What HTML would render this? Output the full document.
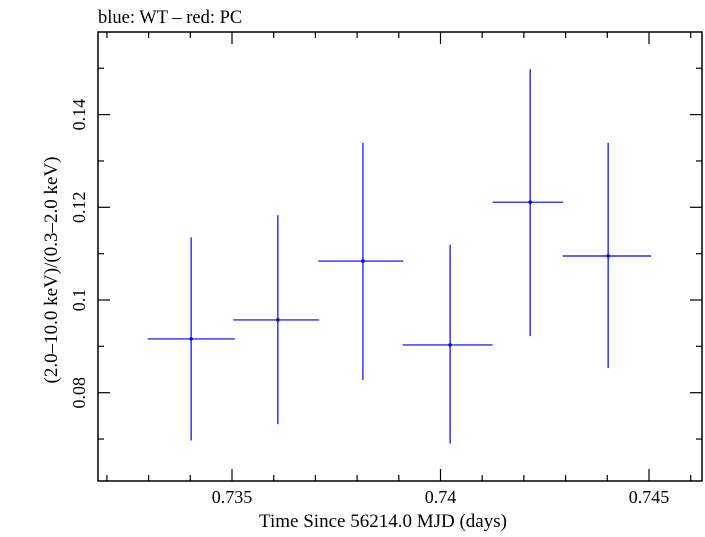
<!DOCTYPE html>
<html><head><meta charset="utf-8"><style>
body{margin:0;background:#fff;}
svg text{font-family:"Liberation Serif",serif;fill:#000;}
</style></head><body>
<svg width="705" height="532">
<text x="98" y="23" font-size="18.5">blue: WT – red: PC</text>
<rect x="98" y="32" width="604" height="449" fill="none" stroke="#000" stroke-width="1.5"/>
<g id="axes"></g>
<g id="marks"></g>
<text x="383" y="527" font-size="19" text-anchor="middle">Time Since 56214.0 MJD (days)</text>
<text transform="translate(57,270) rotate(-90)" font-size="19" text-anchor="middle">(2.0–10.0 keV)/(0.3–2.0 keV)</text>
</svg>
<script>
const times=[0.73402,0.7361,0.73814,0.74023,0.74215,0.74402];
const xLo=[0.73298,0.73503,0.73707,0.73909,0.74125,0.74293];
const xHi=[0.73507,0.73709,0.73911,0.74125,0.74294,0.74505];
const ratios=[0.0916,0.0957,0.1084,0.0903,0.1211,0.1095];
const yHi=[0.1135,0.1183,0.1339,0.1119,0.1498,0.1339];
const yLo=[0.0697,0.0732,0.0827,0.0690,0.0922,0.0853];
const xTicks=[0.735,0.74,0.745];
const xTickLabels=["0.735","0.74","0.745"];
const yTicks=[0.08,0.1,0.12,0.14];
const yTickLabels=["0.08","0.1","0.12","0.14"];
const X=v=>232+(v-0.735)*41700;
const Y=v=>300-(v-0.1)*4635;
const NS="http://www.w3.org/2000/svg";
const ax=document.getElementById('axes'),mk=document.getElementById('marks');
function ln(p,x1,y1,x2,y2,c,w){const l=document.createElementNS(NS,'line');l.setAttribute('x1',x1);l.setAttribute('y1',y1);l.setAttribute('x2',x2);l.setAttribute('y2',y2);l.setAttribute('stroke',c);l.setAttribute('stroke-width',w);p.appendChild(l);return l;}
for(let i=-3;i<=11;i++){const v=0.735+i*0.001;const x=X(v);if(x<99||x>701)continue;const big=Math.abs(Math.round(v*1000)%5)===0;const L=big?12:6;
const a=ln(ax,x,481,x,481-L,'#000',1.2);
const b=ln(ax,x,32,x,32+L,'#000',1.2);}
for(let i=6;i<=15;i++){const v=i*0.01;const y=Y(v);if(y<33||y>480)continue;const big=i%2===0;const L=big?12:6;
const a=ln(ax,98,y,98+L,y,'#000',1.2);
const b=ln(ax,702,y,702-L,y,'#000',1.2);}
xTicks.forEach((v,i)=>{const t=document.createElementNS(NS,'text');t.setAttribute('x',X(v));t.setAttribute('y',503);t.setAttribute('font-size','18');t.setAttribute('text-anchor','middle');t.textContent=xTickLabels[i];


ax.appendChild(t);});
yTicks.forEach((v,i)=>{const t=document.createElementNS(NS,'text');t.setAttribute('transform','translate(85,'+Y(v)+') rotate(-90)');t.setAttribute('font-size','18');t.setAttribute('text-anchor','middle');t.textContent=yTickLabels[i];


ax.appendChild(t);});
times.forEach((t,i)=>{const g=document.createElementNS(NS,'g');


ln(g,X(t),Y(yLo[i]),X(t),Y(yHi[i]),'#0000ff',1.2);
ln(g,X(xLo[i]),Y(ratios[i]),X(xHi[i]),Y(ratios[i]),'#0000ff',1.2);
const c=document.createElementNS(NS,'circle');c.setAttribute('cx',X(t));c.setAttribute('cy',Y(ratios[i]));c.setAttribute('r',1.8);c.setAttribute('fill','#0000ff');g.appendChild(c);
mk.appendChild(g);});
</script>
</body></html>
